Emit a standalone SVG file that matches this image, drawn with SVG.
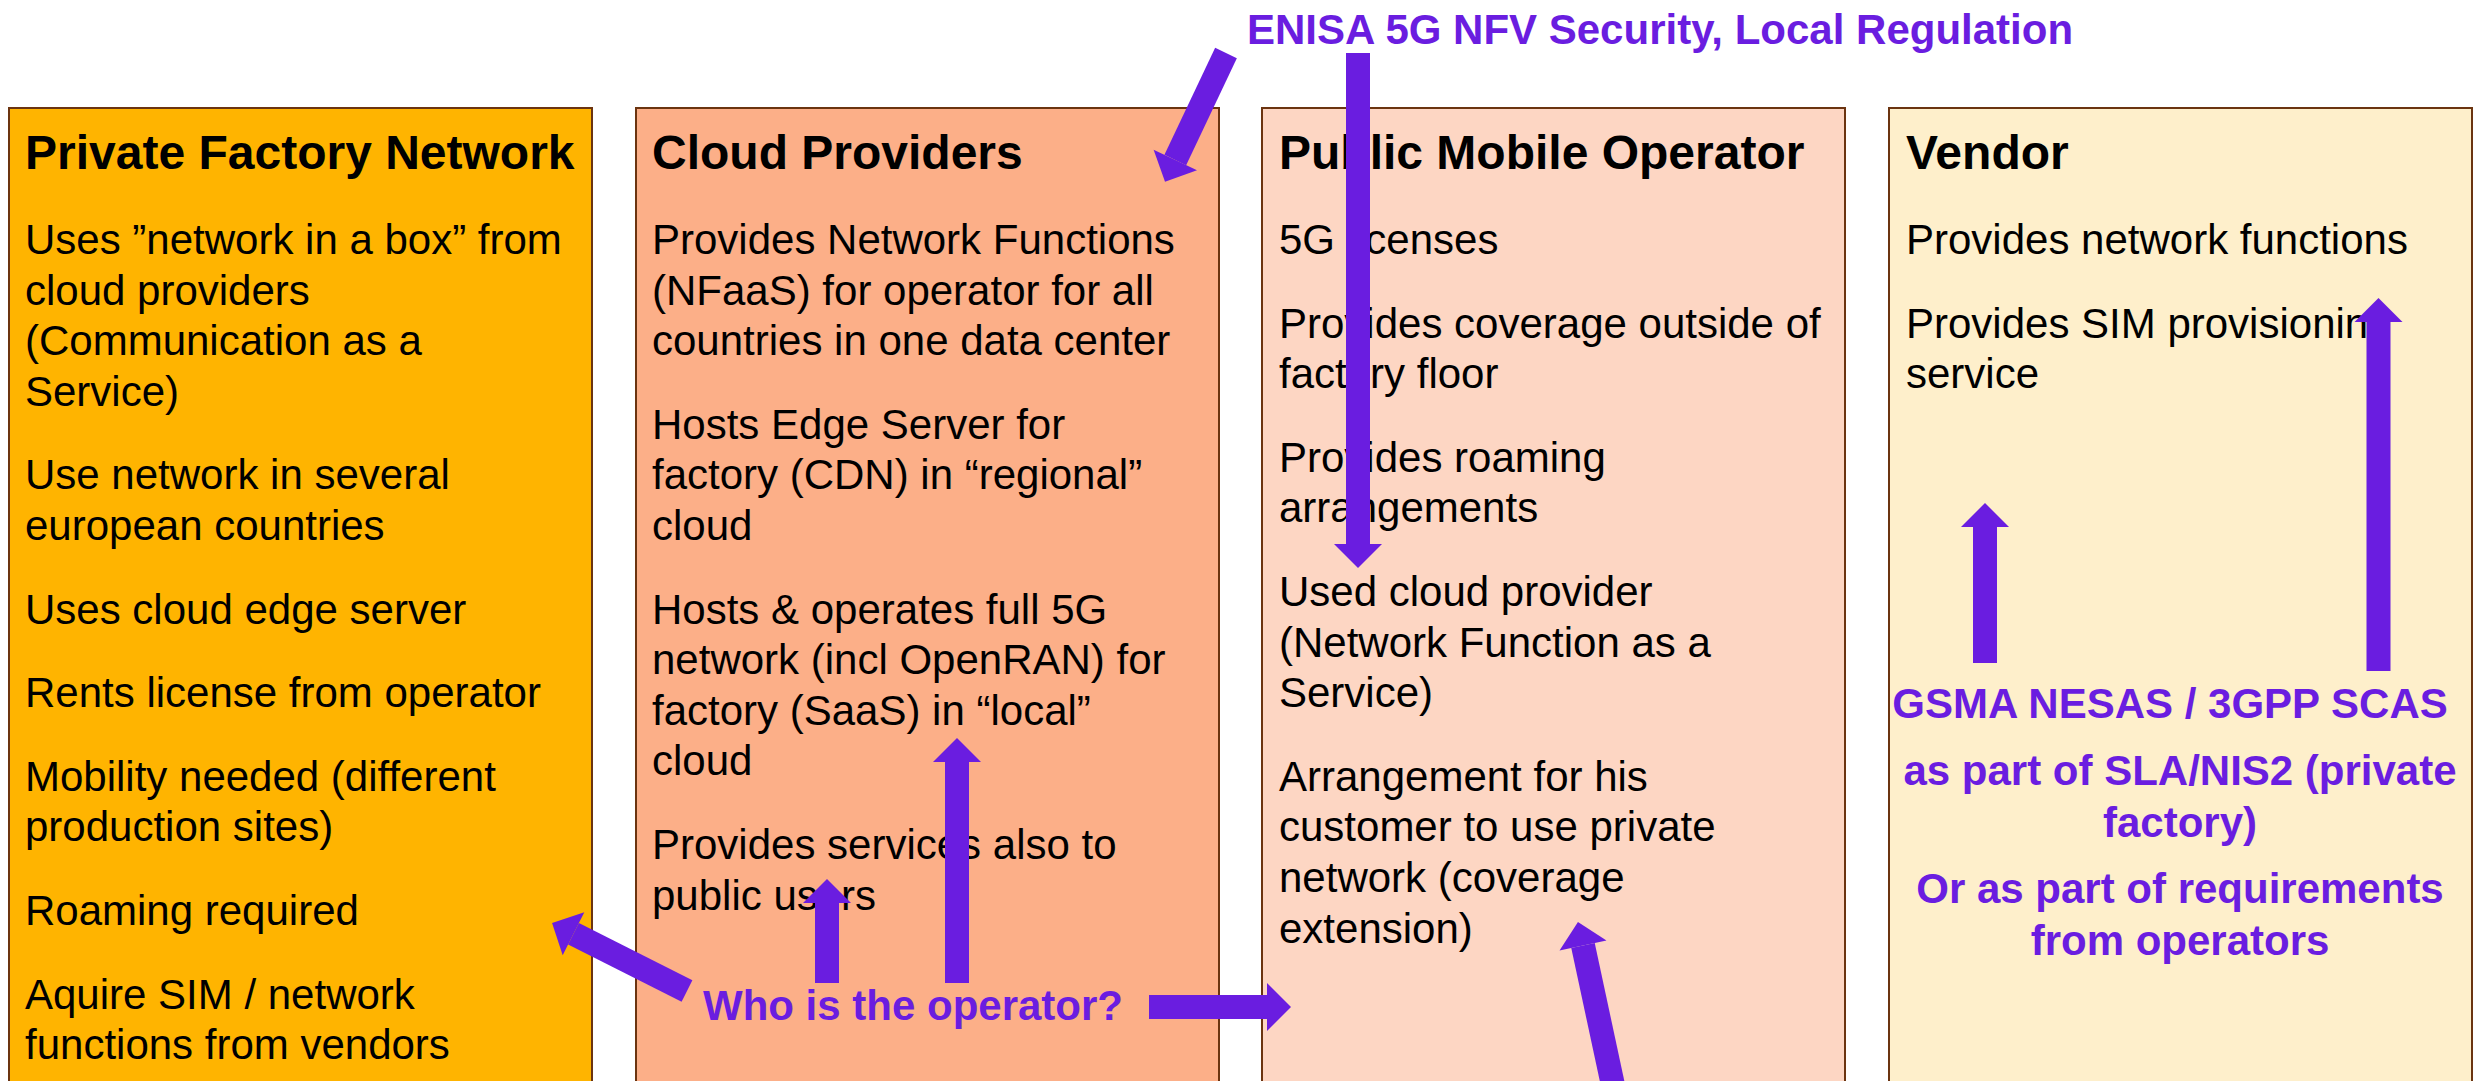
<svg xmlns="http://www.w3.org/2000/svg" width="2474" height="1081" viewBox="0 0 2474 1081">
  <style>
    .box { stroke: #6B3410; stroke-width: 2; }
    .title { font-family: "Liberation Sans", Arial, sans-serif; font-size: 48px; font-weight: bold; fill: #000; }
    .body { font-family: "Liberation Sans", Arial, sans-serif; font-size: 42px; fill: #000; }
    .note { font-family: "Liberation Sans", Arial, sans-serif; font-size: 42px; font-weight: bold; fill: #6A1DE0; }
    .mid { text-anchor: middle; }
    .arrow { stroke: #6A1DE0; stroke-width: 24; stroke-linecap: butt; fill: none; marker-end: url(#head); }
  </style>
  <defs>
    <!-- block arrow head: 2x shaft width wide, 1x shaft width long -->
    <marker id="head" viewBox="0 0 1 2" markerUnits="strokeWidth" markerWidth="1" markerHeight="2" refX="0" refY="1" orient="auto" overflow="visible">
      <path d="M0,0 L1,1 L0,2 z" fill="#6A1DE0"/>
    </marker>
  </defs>

  <rect width="2474" height="1081" fill="#FFFFFF"/>

  <!-- Private Factory Network -->
  <g id="private-factory">
    <rect class="box" x="9" y="108" width="583" height="1000" fill="#FFB400"/>
    <text class="title" x="25" y="169">Private Factory Network</text>
    <text class="body" x="25" y="254">Uses ”network in a box” from</text>
    <text class="body" x="25" y="304.6">cloud providers</text>
    <text class="body" x="25" y="355.2">(Communication as a</text>
    <text class="body" x="25" y="405.8">Service)</text>
    <text class="body" x="25" y="489.4">Use network in several</text>
    <text class="body" x="25" y="540">european countries</text>
    <text class="body" x="25" y="623.6">Uses cloud edge server</text>
    <text class="body" x="25" y="707.2">Rents license from operator</text>
    <text class="body" x="25" y="790.8">Mobility needed (different</text>
    <text class="body" x="25" y="841.4">production sites)</text>
    <text class="body" x="25" y="925">Roaming required</text>
    <text class="body" x="25" y="1008.6">Aquire SIM / network</text>
    <text class="body" x="25" y="1059.2">functions from vendors</text>
  </g>

  <!-- Cloud Providers -->
  <g id="cloud-providers">
    <rect class="box" x="636" y="108" width="583" height="1000" fill="#FCAF88"/>
    <text class="title" x="652" y="169">Cloud Providers</text>
    <text class="body" x="652" y="254">Provides Network Functions</text>
    <text class="body" x="652" y="304.6">(NFaaS) for operator for all</text>
    <text class="body" x="652" y="355.2">countries in one data center</text>
    <text class="body" x="652" y="438.8">Hosts Edge Server for</text>
    <text class="body" x="652" y="489.4">factory (CDN) in “regional”</text>
    <text class="body" x="652" y="540">cloud</text>
    <text class="body" x="652" y="623.6">Hosts &amp; operates full 5G</text>
    <text class="body" x="652" y="674.2">network (incl OpenRAN) for</text>
    <text class="body" x="652" y="724.8">factory (SaaS) in “local”</text>
    <text class="body" x="652" y="775.4">cloud</text>
    <text class="body" x="652" y="859">Provides services also to</text>
    <text class="body" x="652" y="909.6">public users</text>
  </g>

  <!-- Public Mobile Operator -->
  <g id="public-operator">
    <rect class="box" x="1262" y="108" width="583" height="1000" fill="#FDD6C3"/>
    <text class="title" x="1279" y="169">Public Mobile Operator</text>
    <text class="body" x="1279" y="254">5G licenses</text>
    <text class="body" x="1279" y="337.6">Provides coverage outside of</text>
    <text class="body" x="1279" y="388.2">factory floor</text>
    <text class="body" x="1279" y="471.8">Provides roaming</text>
    <text class="body" x="1279" y="522.4">arrangements</text>
    <text class="body" x="1279" y="606">Used cloud provider</text>
    <text class="body" x="1279" y="656.6">(Network Function as a</text>
    <text class="body" x="1279" y="707.2">Service)</text>
    <text class="body" x="1279" y="790.8">Arrangement for his</text>
    <text class="body" x="1279" y="841.4">customer to use private</text>
    <text class="body" x="1279" y="892">network (coverage</text>
    <text class="body" x="1279" y="942.6">extension)</text>
  </g>

  <!-- Vendor -->
  <g id="vendor">
    <rect class="box" x="1889" y="108" width="583" height="1000" fill="#FEEFCB"/>
    <text class="title" x="1906" y="169">Vendor</text>
    <text class="body" x="1906" y="254">Provides network functions</text>
    <text class="body" x="1906" y="337.6">Provides SIM provisioning</text>
    <text class="body" x="1906" y="388.2">service</text>
  </g>

  <!-- Annotations -->
  <g id="regulation-label">
    <text class="note mid" x="1660" y="44">ENISA 5G NFV Security, Local Regulation</text>
  </g>
  <g id="operator-question">
    <text class="note mid" x="913" y="1020">Who is the operator?</text>
  </g>
  <g id="certification-label">
    <text class="note mid" x="2170" y="718">GSMA NESAS / 3GPP SCAS</text>
    <text class="note mid" x="2180" y="785">as part of SLA/NIS2 (private</text>
    <text class="note mid" x="2180" y="837">factory)</text>
    <text class="note mid" x="2180" y="903">Or as part of requirements</text>
    <text class="note mid" x="2180" y="955">from operators</text>
  </g>

  <!-- Connectors -->
  <g id="connectors">
    <line class="arrow" x1="1226" y1="53" x2="1175.3" y2="160"/>
    <line class="arrow" x1="1358" y1="53" x2="1358" y2="544"/>
    <line class="arrow" x1="687" y1="991" x2="573.5" y2="933.8"/>
    <line class="arrow" x1="827" y1="983" x2="827" y2="903"/>
    <line class="arrow" x1="957" y1="983" x2="957" y2="762"/>
    <line class="arrow" x1="1149" y1="1007" x2="1267" y2="1007"/>
    <line class="arrow" x1="1614" y1="1090" x2="1583" y2="945.5"/>
    <line class="arrow" x1="1985" y1="663" x2="1985" y2="527"/>
    <line class="arrow" x1="2378.5" y1="671" x2="2378.5" y2="322"/>
  </g>
</svg>
